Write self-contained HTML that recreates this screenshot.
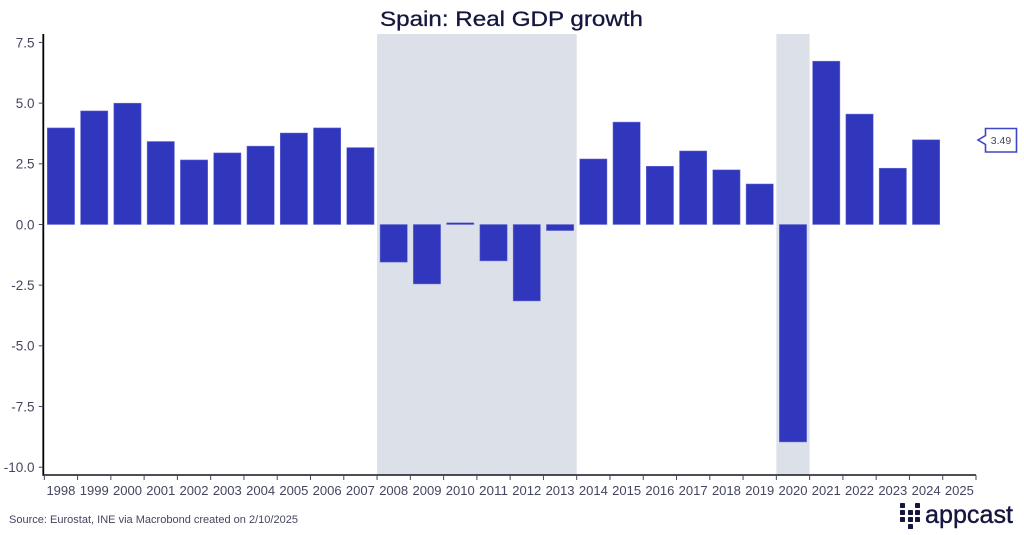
<!DOCTYPE html>
<html>
<head>
<meta charset="utf-8">
<style>
html,body{margin:0;padding:0;background:#fff;width:1024px;height:535px;overflow:hidden}
svg{display:block;font-family:"Liberation Sans",sans-serif}
</style>
</head>
<body>
<svg id="chart" width="1024" height="535" viewBox="0 0 1024 535" xmlns="http://www.w3.org/2000/svg">
  <rect width="1024" height="535" fill="#fff"/>
  <g id="shading"></g>
  <g id="bars"></g>
  <g id="yaxis"></g>
  <g id="xaxis"></g>
  <text x="380" y="26" font-size="21" fill="#14163f" stroke="#14163f" stroke-width="0.3" textLength="263" lengthAdjust="spacingAndGlyphs">Spain: Real GDP growth</text>
  <text x="9" y="523" font-size="11" fill="#44465f" textLength="289" lengthAdjust="spacingAndGlyphs">Source: Eurostat, INE via Macrobond created on 2/10/2025</text>
  <g>
    <path d="M985.5 128.5H1016.5V152H985.5V144.5L978 140L985.5 135.5Z" fill="#fff" stroke="#3f46c4" stroke-width="1.6"/>
    <text id="callout-text" x="1001" y="144" font-size="10.5" fill="#44465f" text-anchor="middle"></text>
  </g>
  <g>
    <g id="logo-dots" fill="#14163f"></g>
    <text x="925" y="523" font-size="25" fill="#14163f" stroke="#14163f" stroke-width="0.4" textLength="88" lengthAdjust="spacingAndGlyphs">appcast</text>
  </g>
</svg>
<script>
const categories = ['1998','1999','2000','2001','2002','2003','2004','2005','2006','2007','2008','2009','2010','2011','2012','2013','2014','2015','2016','2017','2018','2019','2020','2021','2022','2023','2024','2025'];
const growthValues = [3.98,4.68,5.0,3.42,2.66,2.95,3.23,3.77,3.98,3.17,-1.55,-2.45,0.07,-1.5,-3.15,-0.25,2.7,4.22,2.4,3.03,2.25,1.67,-8.96,6.73,4.55,2.32,3.49,null];
const yTickValues = [7.5,5,2.5,0,-2.5,-5,-7.5,-10];
const yTickLabels = ['7.5','5.0','2.5','0.0','-2.5','-5.0','-7.5','-10.0'];
const recessionStart = ['2008','2020'];
const recessionEnd = ['2013','2020'];

const NS = 'http://www.w3.org/2000/svg';
const plotLeft = 44.3, plotRight = 976, plotTop = 34, plotBottom = 475;
const zeroY = 224.5, unitsToPx = 24.27;
const step = (plotRight - plotLeft) / categories.length;
const barPad = 3;

function xBand(i) { return plotLeft + i * step; }
function yScale(v) { return zeroY - v * unitsToPx; }
function make(tag, attrs, parent) {
  const el = document.createElementNS(NS, tag);
  for (const k in attrs) el.setAttribute(k, attrs[k]);
  parent.appendChild(el);
  return el;
}

const shadingG = document.getElementById('shading');
recessionStart.forEach(function (s, i) {
  const a = categories.indexOf(s), b = categories.indexOf(recessionEnd[i]) + 1;
  const r = make('rect', {x: xBand(a), y: plotTop, width: xBand(b) - xBand(a), height: plotBottom - plotTop, fill: '#dce0e8'}, shadingG);
  
  
});

const barsG = document.getElementById('bars');
growthValues.forEach(function (v, i) {
  if (v === null) return;
  const y0 = yScale(Math.max(v, 0)), y1 = yScale(Math.min(v, 0));
  const r = make('rect', {x: xBand(i) + barPad, y: y0, width: step - 2 * barPad, height: y1 - y0, fill: '#3137bd', stroke: '#6a70d6', 'stroke-width': 0.5}, barsG);
  
  
});

const yG = document.getElementById('yaxis');
const yLine = make('line', {x1: plotLeft - 1, x2: plotLeft - 1, y1: plotTop, y2: plotBottom + 0.8, stroke: '#000', 'stroke-width': 1.8}, yG);


yTickValues.forEach(function (v, i) {
  const y = yScale(v);
  const t = make('line', {x1: plotLeft - 5.5, x2: plotLeft - 1, y1: y, y2: y, stroke: '#44465f', 'stroke-width': 1}, yG);
  
  
  const l = make('text', {x: 34.5, y: y + 4.8, 'font-size': 13.5, fill: '#44465f', 'text-anchor': 'end'}, yG);
  
  
  l.textContent = yTickLabels[i];
});

const xG = document.getElementById('xaxis');
const xLine = make('line', {x1: plotLeft - 1.8, x2: plotRight, y1: plotBottom, y2: plotBottom, stroke: '#14141e', 'stroke-width': 1.4}, xG);


categories.forEach(function (c, i) {
  const x = xBand(i);
  const t = make('line', {x1: x, x2: x, y1: plotBottom, y2: plotBottom + 5, stroke: '#44465f', 'stroke-width': 1}, xG);
  
  
  const l = make('text', {x: x + step / 2, y: 495, 'font-size': 12.5, fill: '#44465f', 'text-anchor': 'middle', textLength: 29, lengthAdjust: 'spacingAndGlyphs'}, xG);
  
  
  l.textContent = c;
});
const endTick = make('line', {x1: plotRight, x2: plotRight, y1: plotBottom, y2: plotBottom + 5, stroke: '#44465f', 'stroke-width': 1}, xG);



let lastIdx = growthValues.length - 1;
while (growthValues[lastIdx] === null) lastIdx--;
document.getElementById('callout-text').textContent = growthValues[lastIdx].toFixed(2);

const dotsG = document.getElementById('logo-dots');
[[900, 503], [900, 510], [900, 517],
 [908, 510], [908, 517], [908, 524],
 [915, 503], [915, 510], [915, 517]].forEach(function (p) {
  const d = make('rect', {x: p[0], y: p[1], width: 5, height: 5, rx: 0.8}, dotsG);
  
  
});
</script>
</body>
</html>
